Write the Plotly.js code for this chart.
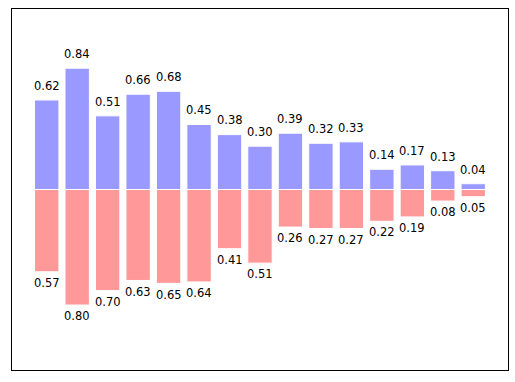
<!DOCTYPE html>
<html>
<head>
<meta charset="utf-8">
<script src="https://cdn.plot.ly/plotly-3.0.1.min.js"></script>
<style>html,body{margin:0;padding:0;background:#fff;}</style>
</head>
<body>
<div id="chart" style="width:515px;height:382px;"></div>
<script>
const positions = [0,1,2,3,4,5,6,7,8,9,10,11,12,13,14];
const upperValues = [0.62,0.84,0.51,0.66,0.68,0.45,0.38,0.30,0.39,0.32,0.33,0.14,0.17,0.13,0.04];
const lowerValues = [0.57,0.80,0.70,0.63,0.65,0.64,0.41,0.51,0.26,0.27,0.27,0.22,0.19,0.08,0.05];

const font = {family: 'DejaVu Sans', size: 11.5, color: '#000'};
const annotations = [];
positions.forEach((x, i) => {
  annotations.push({x: x, y: upperValues[i] + 0.05, text: upperValues[i].toFixed(2), showarrow: false,
    xanchor: 'center', yanchor: 'bottom', font: font, borderpad: 0, yshift: -1});
  annotations.push({x: x, y: -lowerValues[i] - 0.05, text: lowerValues[i].toFixed(2), showarrow: false,
    xanchor: 'center', yanchor: 'top', font: font, borderpad: 0, yshift: 4});
});

const data = [
  {type: 'bar', x: positions, y: upperValues, width: 0.8,
   marker: {color: '#9999ff', line: {color: '#ffffff', width: 1}}, hoverinfo: 'skip'},
  {type: 'bar', x: positions, y: lowerValues.map(v => -v), width: 0.8,
   marker: {color: '#ff9999', line: {color: '#ffffff', width: 1}}, hoverinfo: 'skip'}
];

const layout = {
  width: 515, height: 382,
  margin: {l: 12, r: 7, t: 9, b: 12, pad: 0},
  barmode: 'overlay',
  showlegend: false,
  paper_bgcolor: '#fff', plot_bgcolor: '#fff',
  xaxis: {range: [-1.14, 15.14], showticklabels: false, ticks: '', showgrid: false, zeroline: false,
          showline: true, mirror: true, linecolor: '#000', linewidth: 1},
  yaxis: {range: [-1.25, 1.25], showticklabels: false, ticks: '', showgrid: false, zeroline: false,
          showline: true, mirror: true, linecolor: '#000', linewidth: 1},
  annotations: annotations,
  font: font
};

Plotly.newPlot('chart', data, layout, {staticPlot: true, displayModeBar: false});
</script>
</body>
</html>
